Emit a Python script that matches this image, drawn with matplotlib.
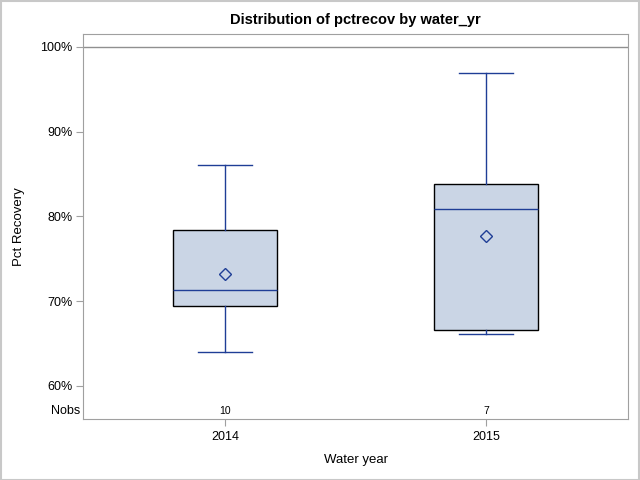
import matplotlib
matplotlib.use("Agg")
import matplotlib.pyplot as plt
from matplotlib.ticker import FuncFormatter

plt.rcParams['font.family'] = ['Liberation Sans', 'DejaVu Sans']

# box statistics (percent)
years = ['2014', '2015']
nobs = [10, 7]
whisker_lo = [64.0, 66.1]
q1 = [69.4, 66.6]
medians = [71.3, 80.85]
q3 = [78.4, 83.8]
whisker_hi = [86.05, 96.9]
means = [73.2, 77.7]

line_col = '#1F3E96'
fill_col = '#CAD5E5'
frame_col = '#A0A0A0'

stats = []
for i in range(len(years)):
    stats.append({'whislo': whisker_lo[i], 'q1': q1[i], 'med': medians[i],
                  'q3': q3[i], 'whishi': whisker_hi[i], 'mean': means[i],
                  'fliers': [], 'label': years[i]})

fig = plt.figure(figsize=(6.4, 4.8), dpi=100)
ax = fig.add_axes([0.1297, 0.127, 0.8516, 0.802])

ax.bxp(stats, positions=range(len(years)), widths=0.40, patch_artist=True,
       showmeans=True, showfliers=False,
       boxprops=dict(facecolor=fill_col, edgecolor='black', linewidth=1),
       medianprops=dict(color=line_col, linewidth=1),
       whiskerprops=dict(color=line_col, linewidth=1),
       capprops=dict(color=line_col, linewidth=1),
       capwidths=0.207,
       meanprops=dict(marker='D', markerfacecolor='none', markeredgecolor=line_col,
                      markersize=6, markeredgewidth=1))

ax.axhline(100, color='#909090', linewidth=1, zorder=0)

ax.set_xlim(-0.544, 1.544)
ax.set_ylim(56.1, 101.5)
ax.set_yticks([60, 70, 80, 90, 100])
ax.yaxis.set_major_formatter(FuncFormatter(lambda v, p: f"{v:.0f}%"))
ax.set_xticks(range(len(years)))
ax.set_xticklabels(years)

# Nobs row inside the bottom of the plot
for i, n in enumerate(nobs):
    ax.text(i, 57.0, str(n), ha='center', va='center', fontsize=7.5)
ax.text(-0.005, 57.0, 'Nobs', transform=ax.get_yaxis_transform(),
        ha='right', va='center', fontsize=9)

for s in ax.spines.values():
    s.set_color(frame_col)
ax.tick_params(colors=frame_col, labelcolor='black', labelsize=9, length=5)
ax.tick_params(axis='y', pad=2.5)

ax.set_title('Distribution of pctrecov by water_yr', fontsize=10.5, fontweight='bold', pad=7)
ax.set_ylabel('Pct Recovery', fontsize=9.5, labelpad=11)
ax.set_xlabel('Water year', fontsize=9.5, labelpad=8)

# light frame around the whole figure
fig.patches.append(plt.Rectangle((0.001, 0.001), 0.997, 0.997, transform=fig.transFigure,
                                 fill=False, edgecolor='#C8C8C8', linewidth=1.5))

fig.savefig('out.png', dpi=100)
